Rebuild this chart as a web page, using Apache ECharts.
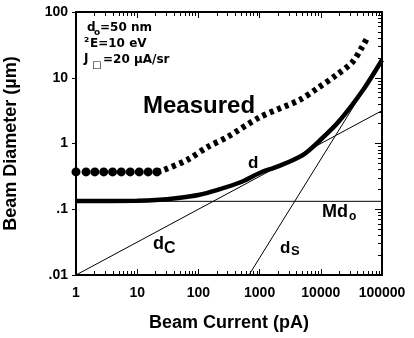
<!DOCTYPE html>
<html><head><meta charset="utf-8">
<script src="https://cdn.jsdelivr.net/npm/echarts@6/dist/echarts.min.js"></script>
<style>html,body{margin:0;padding:0;background:#fff}#c{width:414px;height:338px}</style>
</head><body><div id="c"></div>
<script>
// ---- data ----
const measuredFlatX = [1, 1.46, 2.03, 2.84, 3.96, 5.5, 7.7, 10.8, 15.1, 21];
const measuredFlatY = [0.37, 0.37, 0.37, 0.37, 0.37, 0.37, 0.37, 0.37, 0.37, 0.37];
const measuredX = [21, 26, 65, 140, 300, 1000, 4500, 9000, 18000, 33000, 47000, 57000];
const measuredY = [0.37, 0.39, 0.56, 0.88, 1.26, 2.5, 4.6, 7, 11, 17.4, 29, 40];
const dX = [1, 10, 20, 50, 100, 200, 500, 1000, 2000, 5000, 10000, 20000, 50000, 100000];
const dY = [0.133, 0.135, 0.138, 0.15, 0.165, 0.196, 0.26, 0.356, 0.45, 0.66, 1.15, 2.2, 6.7, 18.6];
const md0X = [1, 100000];
const md0Y = [0.132, 0.132];
const dcX = [1, 100000];
const dcY = [0.01, 3.16];
const dsX = [670, 100000];
const dsY = [0.01, 18.2];
const xTickLabels = ['1', '10', '100', '1000', '10000', '100000'];
const yTickLabels = ['.01', '.1', '1', '10', '100'];
const minorMultipliers = [2, 3, 4, 5, 6, 7, 8, 9];

const pairs = (xs, ys) => xs.map((x, i) => [x, ys[i]]);
const FONT = 'Liberation Sans';
const FONT2 = 'DejaVu Sans';

function minorTicks(decades) {
  const out = [];
  for (let d = 0; d < decades; d++) minorMultipliers.forEach(m => out.push(d + Math.log10(m)));
  return out;
}
const minorX = minorTicks(5), minorY = minorTicks(4);

const chart = echarts.init(document.getElementById('c'), null, {renderer: 'canvas'});
const axLine = () => ({show: true, onZero: false, lineStyle: {color: '#000', width: 2}});
const noLine = () => ({show: false, onZero: false});
const tick = (inside, len, custom) => {
  const t = {show: true, inside: inside, length: len, lineStyle: {color: '#000', width: 1}};
  if (custom) t.customValues = custom;
  return t;
};
const hiddenLabel = {show: true, color: 'rgba(0,0,0,0)', fontSize: 1};

function txt(text, x, y, size, family, weight) {
  return {type: 'text', left: x, top: y, silent: true,
    style: {text: text, x: 0, y: 0, fill: '#000', fontSize: size, fontFamily: family || FONT,
      fontWeight: weight || 'bold', textVerticalAlign: 'top'}};
}

chart.setOption({
  animation: false,
  backgroundColor: '#fff',
  grid: {left: 76, right: 32, top: 12, bottom: 63, outerBoundsMode: 'none'},
  xAxis: [
    {type: 'log', logBase: 10, min: 1, max: 100000, position: 'bottom',
      axisLine: axLine(), axisTick: tick(true, 6),
      axisLabel: {color: '#000', fontSize: 14, fontWeight: 'bold', fontFamily: FONT, margin: 11,
        formatter: v => xTickLabels[Math.round(Math.log10(v))]},
      splitLine: {show: false},
      name: 'Beam Current (pA)', nameLocation: 'middle', nameGap: 39,
      nameTextStyle: {color: '#000', fontSize: 18, fontWeight: 'bold', fontFamily: FONT}},
    {type: 'log', logBase: 10, min: 1, max: 100000, position: 'top',
      axisLine: axLine(), axisTick: tick(true, 6),
      axisLabel: hiddenLabel, splitLine: {show: false}},
    {type: 'value', min: 0, max: 5, position: 'bottom', axisLine: noLine(),
      axisTick: tick(true, 4, minorX), axisLabel: {show: false}, splitLine: {show: false}},
    {type: 'value', min: 0, max: 5, position: 'top', axisLine: noLine(),
      axisTick: tick(true, 4, minorX), axisLabel: {show: false}, splitLine: {show: false}}
  ],
  yAxis: [
    {type: 'log', logBase: 10, min: 0.01, max: 100, position: 'left',
      axisLine: axLine(), axisTick: tick(false, 4),
      axisLabel: {color: '#000', fontSize: 14, fontWeight: 'bold', fontFamily: FONT, margin: 8,
        formatter: v => yTickLabels[Math.round(Math.log10(v)) + 2]},
      splitLine: {show: false},
      name: 'Beam Diameter (µm)', nameLocation: 'middle', nameGap: 56,
      nameTextStyle: {color: '#000', fontSize: 18, fontWeight: 'bold', fontFamily: FONT}},
    {type: 'log', logBase: 10, min: 0.01, max: 100, position: 'right',
      axisLine: axLine(), axisTick: tick(true, 7),
      axisLabel: hiddenLabel, splitLine: {show: false}},
    {type: 'value', min: 0, max: 4, position: 'right', axisLine: noLine(),
      axisTick: tick(true, 4, minorY), axisLabel: {show: false}, splitLine: {show: false}}
  ],
  series: [
    {name: 'Md0', type: 'line', data: pairs(md0X, md0Y), symbol: 'none',
      lineStyle: {color: '#000', width: 1}},
    {name: 'dC', type: 'line', data: pairs(dcX, dcY), symbol: 'none', lineStyle: {color: '#000', width: 1}},
    {name: 'dS', type: 'line', data: pairs(dsX, dsY), symbol: 'none', lineStyle: {color: '#000', width: 1}},
    {name: 'd', type: 'line', data: pairs(dX, dY), symbol: 'none', smooth: 0.3,
      lineStyle: {color: '#000', width: 4.5}},
    {name: 'Measured', type: 'line', data: pairs(measuredX, measuredY), symbol: 'none', smooth: 0.3,
      lineStyle: {color: '#000', width: 6, type: [4, 4]}},
    {name: 'Measured (flat)', type: 'scatter', data: pairs(measuredFlatX, measuredFlatY),
      symbol: 'circle', symbolSize: 9, itemStyle: {color: '#000', opacity: 1}}
  ],
  graphic: [
    txt('Measured', 143, 94, 24),
    txt('d', 248, 155, 17),
    txt('Md', 322, 203, 18), txt('o', 349, 211, 12),
    txt('d', 153, 235, 18), txt('C', 164, 241, 16),
    txt('d', 280, 240, 17), txt('S', 291, 245, 13),
    txt('d', 87, 22, 12, FONT2), txt('o', 94, 28, 9, FONT2), txt('=50 nm', 100, 22, 12, FONT2),
    txt('²', 84, 37, 12, FONT2), txt('E=10 eV', 90, 38, 12, FONT2),
    txt('J', 84, 53, 12, FONT2), txt('□', 92, 60, 10, FONT2), txt('=20 µA/sr', 103, 54, 12, FONT2)
  ]
});
</script></body></html>
